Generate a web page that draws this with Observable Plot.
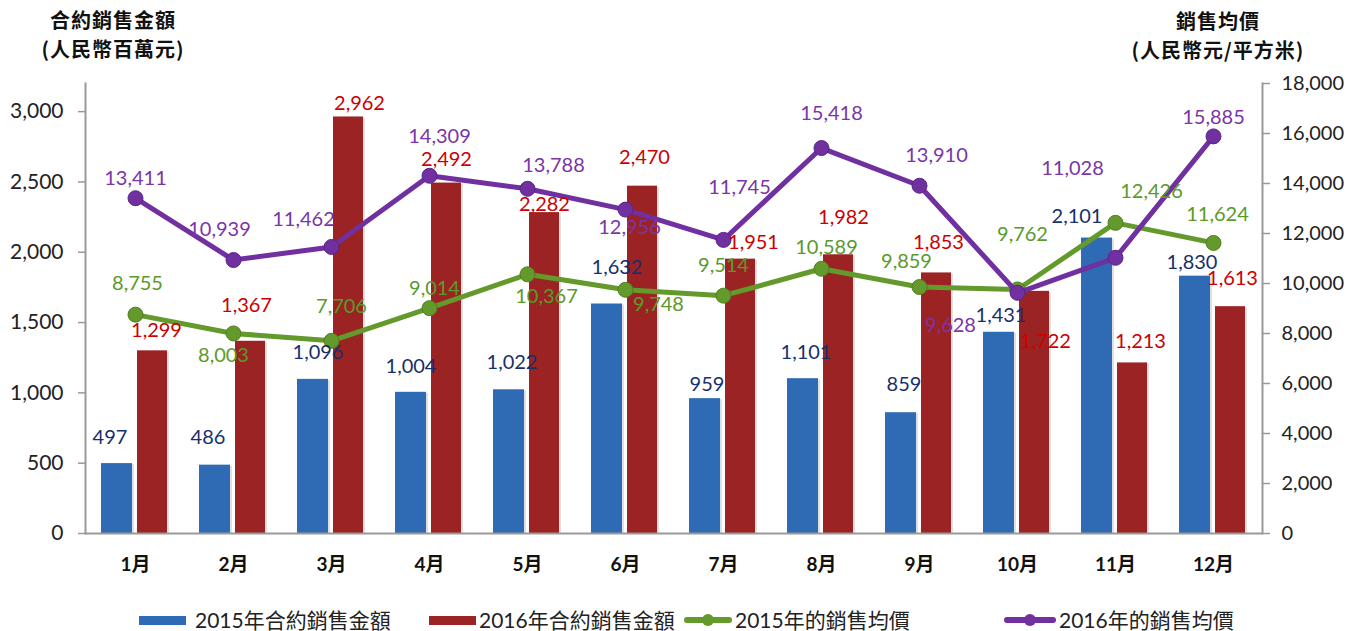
<!DOCTYPE html>
<html><head><meta charset="utf-8">
<script src="https://cdn.jsdelivr.net/npm/d3@7"></script>
<script src="https://cdn.jsdelivr.net/npm/@observablehq/plot@0.6"></script>
<style>
body{margin:0;background:#fff;width:1348px;height:631px;position:relative;overflow:hidden;font-family:"Noto Sans CJK TC",sans-serif}
#chart{position:absolute;left:0;top:0}
.ttl{position:absolute;font-weight:700;font-size:20px;letter-spacing:1px;text-align:center;line-height:29px;height:29px;color:#111;white-space:nowrap}
.sw{position:absolute}
.lt{position:absolute;top:606px;font-family:Lato,"Noto Sans CJK TC",sans-serif;font-size:21px;color:#222;line-height:28px;white-space:nowrap}
</style></head><body>
<div class="ttl" style="left:15px;top:5px;width:196px">合約銷售金額</div>
<div class="ttl" style="left:15px;top:34px;width:196px">(人民幣百萬元)</div>
<div class="ttl" style="left:1118px;top:6px;width:200px">銷售均價</div>
<div class="ttl" style="left:1118px;top:35px;width:200px">(人民幣元/平方米)</div>
<div id="chart"></div>
<div id="legend"></div>
<script>
// ---- data ----
const months = ["1月","2月","3月","4月","5月","6月","7月","8月","9月","10月","11月","12月"];
const sales2015 = [497, 486, 1096, 1004, 1022, 1632, 959, 1101, 859, 1431, 2101, 1830];
const sales2016 = [1299, 1367, 2962, 2492, 2282, 2470, 1951, 1982, 1853, 1722, 1213, 1613];
const price2015 = [8755, 8003, 7706, 9014, 10367, 9748, 9514, 10589, 9859, 9762, 12426, 11624];
const price2016 = [13411, 10939, 11462, 14309, 13788, 12956, 11745, 15418, 13910, 9628, 11028, 15885];
const leftTicks = [0, 500, 1000, 1500, 2000, 2500, 3000];
const rightTicks = [0, 2000, 4000, 6000, 8000, 10000, 12000, 14000, 16000, 18000];
const seriesNames = ["2015年合約銷售金額", "2016年合約銷售金額", "2015年的銷售均價", "2016年的銷售均價"];

// ---- layout: label nudges [dx, dy] per point (layout only) ----
const nudgeS15 = [[-7,-26],[-7,-28],[5,-27],[0,-26],[3,-27],[10,-36],[2,-14],[3,-26],[3,-28],[2,-17],[-20,-21],[-3,-14]];
const nudgeS16 = [[4,-20],[-4,-36],[11,-13],[0,-23],[0,-8],[2,-29],[13,-17],[5,-37],[2,-30],[11,50],[8,-21],[2,-28]];
const nudgeP15 = [[2,-31],[-10,22],[10,-34],[5,-20],[19,22],[33,15],[0,-30],[5,-21],[-13,-25],[5,-55],[36,-31],[4,-28]];
const nudgeP16 = [[0,-20],[-14,-30],[-28,-27],[10,-39],[26,-23],[4,18],[16,-52],[10,-34],[17,-30],[-67,33],[-43,-89],[0,-19]];

const C = {b:"#2e6bb4", r:"#9c2323", g:"#64992c", p:"#7030a0",
           bt:"#17306b", rt:"#cc0000", gt:"#5a9a2a", pt:"#7a35a8"};
const leftMax = 3200, rightMax = 18000, k = leftMax / rightMax;
const fmt = d3.format(",");
const rows = (vals) => months.map((m, i) => ({month: m, v: vals[i]}));
const s15 = rows(sales2015), s16 = rows(sales2016), p15 = rows(price2015), p16 = rows(price2016);

const barOffB = -18.5, barOffR = 17;
const labels = (data, nudges, yf, baseDx, color) =>
  data.map((d, i) => Plot.text([d], {x: "month", y: yf, text: d => fmt(d.v),
    dx: baseDx + nudges[i][0], dy: nudges[i][1], fill: color, fontSize: 20}));

const chart = Plot.plot({
  width: 1348, height: 580,
  marginLeft: 85, marginRight: 86, marginTop: 83, marginBottom: 47,
  style: {fontFamily: "Lato, sans-serif", fontSize: "21px", color: "#222", background: "transparent"},
  x: {domain: months, padding: 0, axis: null},
  y: {domain: [0, leftMax], axis: null},
  marks: [
    Plot.barY(s15, {x: "month", y: "v", fill: "#000", fillOpacity: 0.12, insetLeft: 16, insetRight: 50, dy: 1}),
    Plot.barY(s16, {x: "month", y: "v", fill: "#000", fillOpacity: 0.12, insetLeft: 52, insetRight: 15, dy: 1}),
    Plot.barY(s15, {x: "month", y: "v", fill: C.b, insetLeft: 15, insetRight: 52}),
    Plot.barY(s16, {x: "month", y: "v", fill: C.r, insetLeft: 51, insetRight: 17}),
    Plot.frame({anchor: "left", stroke: "#999", strokeWidth: 2}),
    Plot.frame({anchor: "right", stroke: "#999", strokeWidth: 2}),
    Plot.ruleY([0], {stroke: "#999", strokeWidth: 2}),
    Plot.axisY(leftTicks, {anchor: "left", label: null, tickSize: 7, tickPadding: 15, stroke: "#999", strokeWidth: 1.5, tickFormat: fmt, fontSize: 21}),
    Plot.axisY(rightTicks, {anchor: "right", label: null, y: d => d * k, text: d => fmt(d), tickSize: 7, tickPadding: 12, stroke: "#999", strokeWidth: 1.5, fontSize: 20}),
    Plot.axisX(months, {anchor: "bottom", label: null, tickSize: 0, tickPadding: 24, fontSize: 19, fontWeight: "bold", fill: "#111", fontFamily: "Lato, 'Noto Sans CJK TC', sans-serif"}),
    Plot.line(p15, {x: "month", y: d => d.v * k, stroke: C.g, strokeWidth: 5}),
    Plot.dot(p15, {x: "month", y: d => d.v * k, r: 7.5, fill: C.g, stroke: "#4f7f22", strokeWidth: 1}),
    Plot.line(p16, {x: "month", y: d => d.v * k, stroke: C.p, strokeWidth: 5}),
    Plot.dot(p16, {x: "month", y: d => d.v * k, r: 7.5, fill: C.p, stroke: "#5a2585", strokeWidth: 1}),
    ...labels(s15, nudgeS15, "v", barOffB, C.bt),
    ...labels(s16, nudgeS16, "v", barOffR, C.rt),
    ...labels(p15, nudgeP15, d => d.v * k, 0, C.gt),
    ...labels(p16, nudgeP16, d => d.v * k, 0, C.pt)
  ]
});
document.getElementById("chart").appendChild(chart);

// ---- legend ----
const lg = document.getElementById("legend");
const items = [
  {type: "bar", color: C.b, sw: 139, tx: 195},
  {type: "bar", color: C.r, sw: 429, tx: 479},
  {type: "line", color: C.g, sw: 684, tx: 735},
  {type: "line", color: C.p, sw: 1004, tx: 1059}
];
items.forEach((it, i) => {
  const s = document.createElement("div");
  s.className = "sw";
  if (it.type === "bar") {
    s.style.cssText = `left:${it.sw}px;top:616px;width:47px;height:9px;background:${it.color}`;
  } else {
    s.style.cssText = `left:${it.sw}px;top:617px;width:${it.tx - it.sw - 3}px;height:6px;background:${it.color};border-radius:3px`;
    const d = document.createElement("div");
    d.style.cssText = `position:absolute;left:${(it.tx - it.sw - 3) / 2 - 6}px;top:-3px;width:12px;height:12px;border-radius:6px;background:${it.color}`;
    s.appendChild(d);
  }
  lg.appendChild(s);
  const t = document.createElement("div");
  t.className = "lt";
  t.style.left = it.tx + "px";
  t.textContent = seriesNames[i];
  lg.appendChild(t);
});
</script>
</body></html>
